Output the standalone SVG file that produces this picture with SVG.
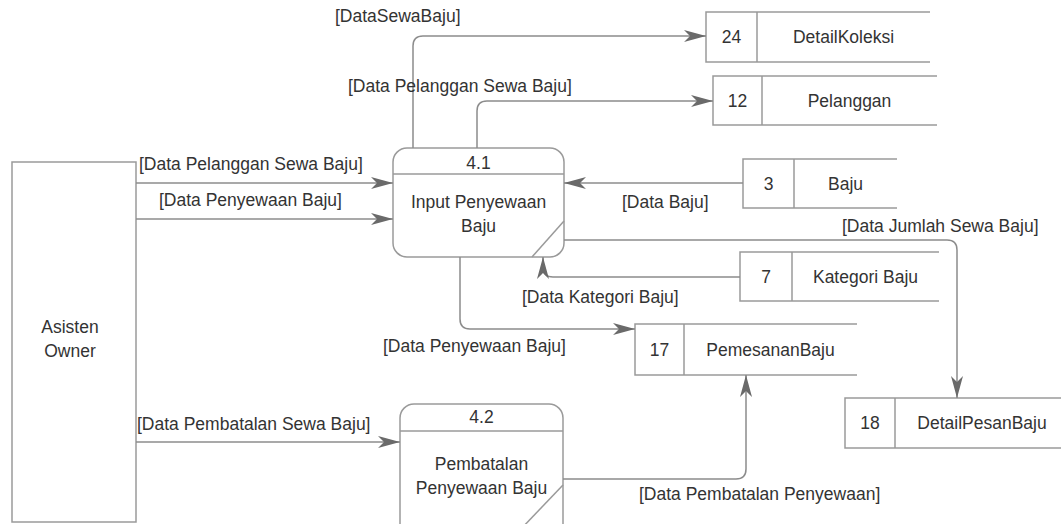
<svg xmlns="http://www.w3.org/2000/svg" width="1061" height="524" viewBox="0 0 1061 524">
<style>
.box{fill:#fff;stroke:#9a9a9a;stroke-width:1.5}
.ln{fill:none;stroke:#9a9a9a;stroke-width:1.5}
.fl{fill:none;stroke:#8c8c8c;stroke-width:1.5;marker-end:url(#ah)}
text{font-family:"Liberation Sans",Arial,sans-serif;font-size:17.5px;fill:#333}
.c{text-anchor:middle}
</style>
<defs>
<marker id="ah" markerUnits="userSpaceOnUse" markerWidth="24" markerHeight="12" refX="22" refY="6" orient="auto">
<path d="M0,0 L22,6 L0,12 L6,6 z" fill="#6a6a6a"/>
</marker>
</defs>
<rect width="1061" height="524" fill="#fff"/>

<g id="asisten-owner">
<rect class="box" x="12" y="162" width="124" height="360"/>
<text class="c" x="70" y="333">Asisten</text>
<text class="c" x="70" y="357">Owner</text>
</g>

<g id="p41">
<rect class="box" x="393" y="148" width="171" height="109" rx="14"/>
<line class="ln" x1="393" y1="174" x2="564" y2="174"/>
<line class="ln" x1="532" y1="257" x2="564" y2="221"/>
<text class="c" x="478.5" y="169">4.1</text>
<text class="c" x="478.5" y="208">Input Penyewaan</text>
<text class="c" x="478.5" y="232">Baju</text>
</g>

<g id="p42">
<rect class="box" x="400" y="404" width="163" height="134" rx="14"/>
<line class="ln" x1="400" y1="431" x2="563" y2="431"/>
<line class="ln" x1="520" y1="530" x2="563" y2="485"/>
<text class="c" x="481.5" y="423">4.2</text>
<text class="c" x="481.5" y="470">Pembatalan</text>
<text class="c" x="481.5" y="494">Penyewaan Baju</text>
</g>

<g id="ds24">
<path class="ln" d="M930,12 H706 V62 H930 M757,12 V62"/>
<text class="c" x="731.5" y="43">24</text>
<text class="c" x="843.5" y="43">DetailKoleksi</text>
</g>

<g id="ds12">
<path class="ln" d="M937,76 H713 V125 H937 M762,76 V125"/>
<text class="c" x="737.5" y="107">12</text>
<text class="c" x="849.5" y="107">Pelanggan</text>
</g>

<g id="ds3">
<path class="ln" d="M897,159 H743 V208 H897 M794,159 V208"/>
<text class="c" x="768.5" y="190">3</text>
<text class="c" x="845.5" y="190">Baju</text>
</g>

<g id="ds7">
<path class="ln" d="M939,252 H740 V301 H939 M792,252 V301"/>
<text class="c" x="766" y="283">7</text>
<text class="c" x="865.5" y="283">Kategori Baju</text>
</g>

<g id="ds17">
<path class="ln" d="M857,324 H635 V375 H857 M684,324 V375"/>
<text class="c" x="659.5" y="356">17</text>
<text class="c" x="770.5" y="356">PemesananBaju</text>
</g>

<g id="ds18">
<path class="ln" d="M1061,398 H845 V448 H1061 M895,398 V448"/>
<text class="c" x="870" y="429">18</text>
<text class="c" x="982" y="429">DetailPesanBaju</text>
</g>

<g id="connectors">
<path class="fl" d="M413,148 V46 Q413,36 423,36 H706"/>
<path class="fl" d="M477,148 V111 Q477,101 487,101 H713"/>
<path class="fl" d="M136,183 H393"/>
<path class="fl" d="M136,219 H393"/>
<path class="fl" d="M743,183 H564"/>
<path class="fl" d="M564,240 H947 Q957,240 957,250 V398"/>
<path class="fl" d="M740,277 H553 Q543,277 543,267 V257"/>
<path class="fl" d="M460,257 V319 Q460,329 470,329 H635"/>
<path class="fl" d="M136,442 H400"/>
<path class="fl" d="M563,479 H736 Q746,479 746,469 V375"/>
<text x="335" y="22">[DataSewaBaju]</text>
<text x="348" y="92">[Data Pelanggan Sewa Baju]</text>
<text x="139" y="170">[Data Pelanggan Sewa Baju]</text>
<text x="159" y="206">[Data Penyewaan Baju]</text>
<text x="622" y="208">[Data Baju]</text>
<text x="842" y="232">[Data Jumlah Sewa Baju]</text>
<text x="522" y="303">[Data Kategori Baju]</text>
<text x="383" y="352">[Data Penyewaan Baju]</text>
<text x="137" y="430">[Data Pembatalan Sewa Baju]</text>
<text x="639" y="500">[Data Pembatalan Penyewaan]</text>
</g>
</svg>
